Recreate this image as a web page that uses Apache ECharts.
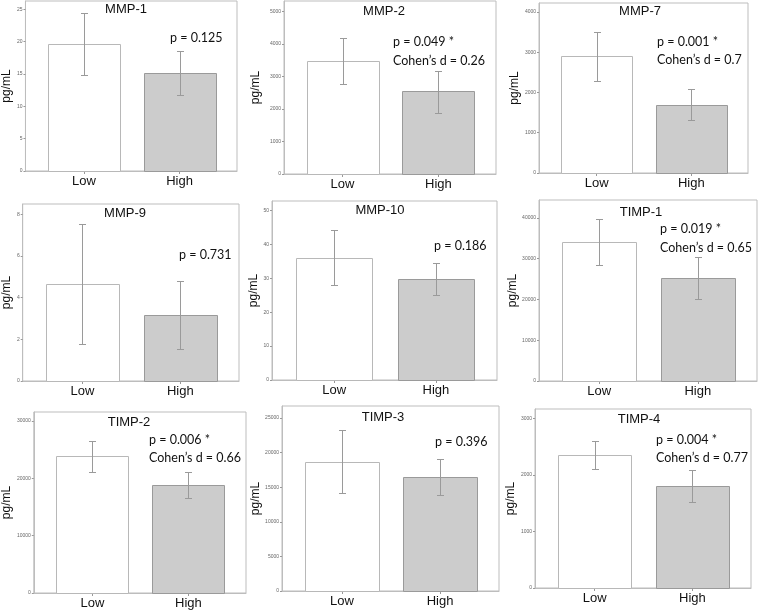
<!DOCTYPE html>
<html><head><meta charset="utf-8">
<script src="https://cdn.jsdelivr.net/npm/echarts@6/dist/echarts.min.js"></script>
<style>html,body{margin:0;padding:0;background:#fff}#c{width:758px;height:610px}</style>
</head><body><div id="c"></div>
<script>
// ---- data ----
const categories = ['Low', 'High'];
const markers = ['MMP-1', 'MMP-2', 'MMP-7', 'MMP-9', 'MMP-10', 'TIMP-1', 'TIMP-2', 'TIMP-3', 'TIMP-4'];
const lowMean  = [19.7, 3486, 2892, 4.68, 36.0, 34100, 23900, 18690, 2362];
const lowErrLo = [14.9, 2769, 2286, 1.79, 27.9, 28490, 21160, 14210, 2109];
const lowErrHi = [24.5, 4185, 3503, 7.55, 44.1, 39750, 26570, 23270, 2611];
const highMean  = [15.2, 2544, 1699, 3.19, 29.8, 25140, 18900, 16520, 1813];
const highErrLo = [11.8, 1886, 1327, 1.55, 25.1, 20160, 16630, 13870, 1530];
const highErrHi = [18.6, 3178, 2087, 4.78, 34.5, 30290, 21160, 19120, 2097];
const axisMax  = [26.3, 5320, 4220, 8.5, 52.8, 44360, 31570, 26730, 3170];
const tickStep = [5, 1000, 1000, 2, 10, 10000, 10000, 5000, 1000];
const pText = ['p = 0.125', 'p = 0.049 *', 'p = 0.001 *', 'p = 0.731', 'p = 0.186', 'p = 0.019 *', 'p = 0.006 *', 'p = 0.396', 'p = 0.004 *'];
const dText = ['', 'Cohen\u2019s d = 0.26', 'Cohen\u2019s d = 0.7', '', '', 'Cohen\u2019s d = 0.65', 'Cohen\u2019s d = 0.66', '', 'Cohen\u2019s d = 0.77'];

// ---- layout (pixels) ----
const layout = [
  {l: 25,  t: 1,   w: 212, h: 170, gap: 9,  tx: 126, ty: 9.5, sx: 170, sy: 38},
  {l: 284, t: 1,   w: 212, h: 173, gap: 22, tx: 384, ty: 11.5, sx: 393, sy: 42},
  {l: 539, t: 3,   w: 209, h: 170, gap: 13, tx: 640, ty: 11.5, sx: 657, sy: 41.5},
  {l: 15,  t: 204, w: 224, h: 177, gap: 4,  tx: 125, ty: 213, sx: 179, sy: 255},
  {l: 272, t: 201, w: 225, h: 179, gap: 6,  tx: 380, ty: 210.5, sx: 434, sy: 245.5},
  {l: 539, t: 200, w: 218, h: 181, gap: 14, tx: 641, ty: 212.5, sx: 660, sy: 229},
  {l: 29,  t: 412, w: 217, h: 181, gap: 19, tx: 129, ty: 422, sx: 149, sy: 439.5},
  {l: 282, t: 406, w: 217, h: 185, gap: 18, tx: 383, ty: 417, sx: 435, sy: 442},
  {l: 535, t: 409, w: 216, h: 179, gap: 12, tx: 639, ty: 419, sx: 656, sy: 439.5}
];

const chart = echarts.init(document.getElementById('c'), null, {renderer: 'canvas'});
const grids = [], xAxes = [], yAxes = [], series = [], graphics = [];
const statFont = 'Lato, "Open Sans", sans-serif';
const armFont = '"Liberation Sans", Arial, sans-serif';

function renderItem(params, api) {
  const x = api.value(0), m = api.value(1), lo = api.value(2), hi = api.value(3);
  const bw = api.size([0.75, 0])[0];
  const top = api.coord([x, m]);
  const base = api.coord([x, 0]);
  const pLo = api.coord([x, lo]);
  const pHi = api.coord([x, hi]);
  const isHigh = x === 1;
  const cx = Math.round(top[0]) + 0.5;
  const cap = 3.5;
  const yh = Math.round(pHi[1]) + 0.5, yl = Math.round(pLo[1]) + 0.5;
  return {
    type: 'group',
    children: [
      {type: 'rect', shape: {x: Math.round(top[0] - bw / 2) + 0.5, y: Math.round(top[1]) + 0.5, width: Math.round(bw), height: Math.round(base[1]) - Math.round(top[1])},
        style: {fill: isHigh ? '#cccccc' : '#ffffff', stroke: isHigh ? '#9a9a9a' : '#b8b8b8', lineWidth: 1}},
      {type: 'line', shape: {x1: cx, y1: yh, x2: cx, y2: yl}, style: {stroke: '#9a9a9a', lineWidth: 1}},
      {type: 'line', shape: {x1: cx - cap, y1: yh, x2: cx + cap, y2: yh}, style: {stroke: '#9a9a9a', lineWidth: 1}},
      {type: 'line', shape: {x1: cx - cap, y1: yl, x2: cx + cap, y2: yl}, style: {stroke: '#9a9a9a', lineWidth: 1}}
    ]
  };
}

markers.forEach((name, i) => {
  const L = layout[i];
  grids.push({left: L.l, top: L.t, width: L.w, height: L.h, show: true, borderColor: '#bdbdbd', borderWidth: 1, containLabel: false});
  xAxes.push({
    type: 'value', gridIndex: i, min: -0.61, max: 1.6,
    axisLine: {show: true, onZero: false, lineStyle: {color: '#bdbdbd'}},
    axisTick: {show: true, customValues: [0, 1], length: 3, lineStyle: {color: '#999'}},
    axisLabel: {customValues: [0, 1], formatter: v => categories[Math.round(v)], fontSize: 13, color: '#111', margin: 4, fontFamily: armFont},
    splitLine: {show: false}
  });
  yAxes.push({
    type: 'value', gridIndex: i, min: 0, max: axisMax[i], interval: tickStep[i],
    name: 'pg/mL', nameLocation: 'middle', nameGap: L.gap,
    nameTextStyle: {fontSize: 12, color: '#111', fontFamily: armFont},
    axisLine: {show: true, onZero: false, lineStyle: {color: '#bdbdbd'}},
    axisTick: {show: true, length: 2, lineStyle: {color: '#999'}},
    axisLabel: {fontSize: 5, color: '#666', margin: 3, showMaxLabel: false, formatter: v => String(v), fontFamily: armFont},
    splitLine: {show: false}
  });
  series.push({
    type: 'custom', xAxisIndex: i, yAxisIndex: i,
    renderItem: renderItem,
    encode: {x: 0, y: [1, 2, 3]},
    data: [
      [0, lowMean[i], lowErrLo[i], lowErrHi[i]],
      [1, highMean[i], highErrLo[i], highErrHi[i]]
    ],
    silent: true
  });
  graphics.push({type: 'text', x: L.tx, y: L.ty, style: {text: name, fontSize: 13, fill: '#111', fontFamily: armFont, align: 'center', verticalAlign: 'middle'}, z: 10});
  graphics.push({type: 'text', x: L.sx, y: L.sy, style: {text: pText[i], fontSize: 12.5, fill: '#111', fontFamily: statFont, align: 'left', verticalAlign: 'middle'}, z: 10});
  if (dText[i]) {
    graphics.push({type: 'text', x: L.sx, y: L.sy + 18.5, style: {text: dText[i], fontSize: 12.5, fill: '#111', fontFamily: statFont, align: 'left', verticalAlign: 'middle'}, z: 10});
  }
});

chart.setOption({
  animation: false,
  backgroundColor: '#fff',
  grid: grids, xAxis: xAxes, yAxis: yAxes, series: series,
  graphic: graphics
});
</script>
</body></html>
